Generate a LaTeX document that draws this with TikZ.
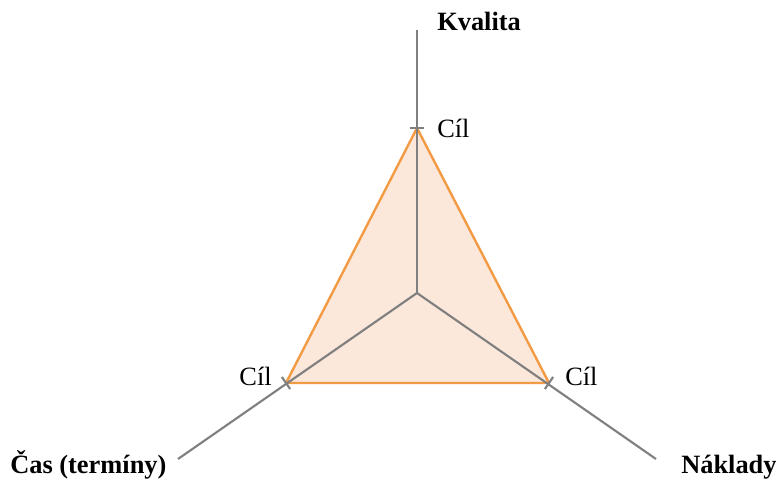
\documentclass[tikz,border=0pt]{standalone}
\usepackage{fontspec}
\setmainfont{Liberation Serif}
\usetikzlibrary{calc}
\definecolor{axisgray}{HTML}{808080}
\definecolor{goalorange}{HTML}{F39A45}
\definecolor{goalfill}{HTML}{FCE8DA}
\tikzset{
  axisline/.style={axisgray, line width=1.6pt},
  goalline/.style={goalorange, line width=1.8pt, line join=round, fill=goalfill},
  axislabel/.style={font=\fontsize{19.8}{23}\selectfont\bfseries, inner sep=0pt},
  goallabel/.style={font=\fontsize{19.8}{23}\selectfont, inner sep=0pt}
}
\begin{document}
\begin{tikzpicture}[x=0.75pt, y=-0.75pt]
        \useasboundingbox (0,0) rectangle (776,479);
        \coordinate (centre) at (417,293);
        \coordinate (qend) at (417,30);
        \coordinate (tend) at (178,459);
        \coordinate (cend) at (656,459);
        \coordinate (qgoal) at (417,128);
        \coordinate (tgoal) at (286,383);
        \coordinate (cgoal) at (549,383);
        \filldraw[goalline] (qgoal) -- (cgoal) -- (tgoal) -- cycle;
        \draw[axisline] (centre) -- (qend);
        \draw[axisline] (centre) -- (tend);
        \draw[axisline] (centre) -- (cend);
        \foreach \g in {qgoal, tgoal, cgoal} {
            \draw[axisline] ($(\g)!5.5pt!90:(centre)$) -- ($(\g)!5.5pt!-90:(centre)$);
        }
        \node[axislabel, anchor=base west] (kvalita) at (437,30) {Kvalita};
        \node[axislabel, anchor=base west] (cas) at (10,473) {Čas (termíny)};
        \node[axislabel, anchor=base west] (naklady) at (681,473) {Náklady};
        \node[goallabel, anchor=base west] (qcil) at (437,137) {Cíl};
        \node[goallabel, anchor=base east] (tcil) at (272,385) {Cíl};
        \node[goallabel, anchor=base west] (ccil) at (565,385) {Cíl};
    \end{tikzpicture}
\end{document}
